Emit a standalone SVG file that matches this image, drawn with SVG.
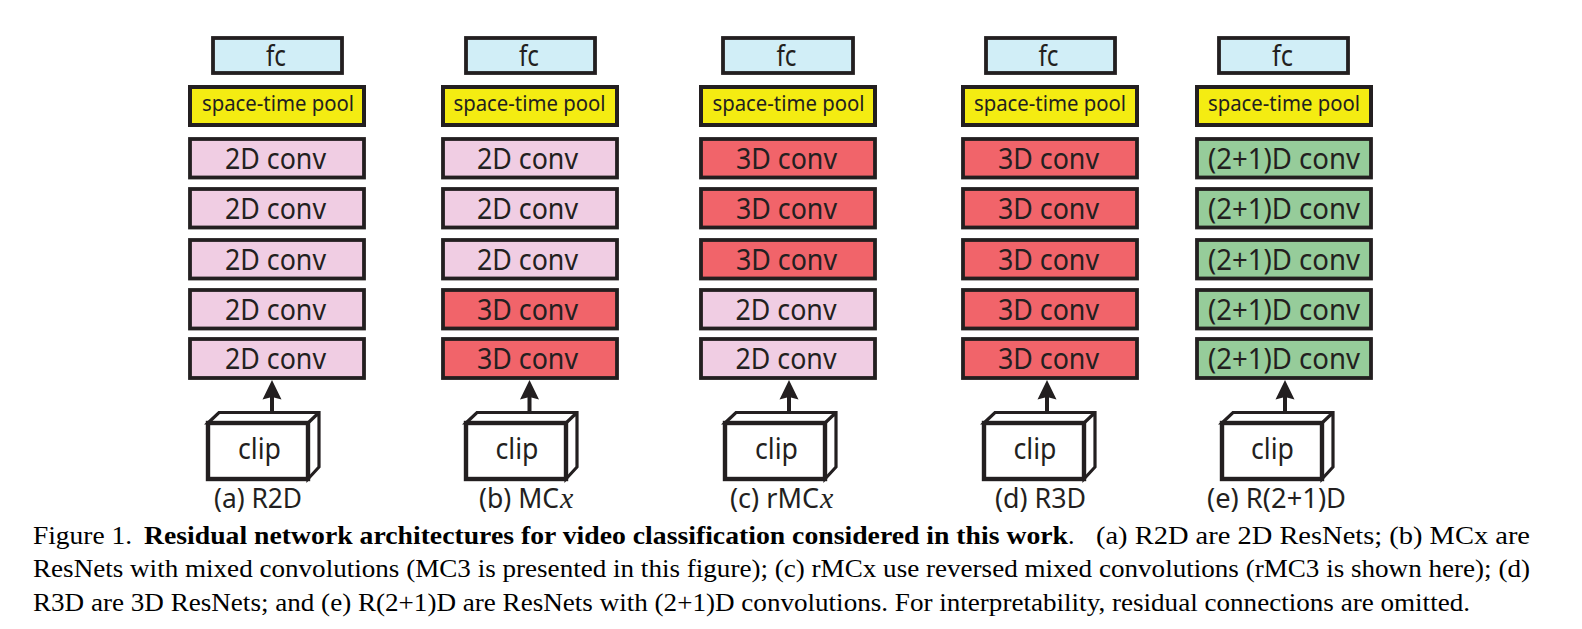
<svg xmlns="http://www.w3.org/2000/svg" width="1582" height="629" viewBox="0 0 1582 629">
<style>
.b{stroke:#231f20;stroke-width:3.8}
.p{stroke:#231f20;stroke-width:4}
.fc{fill:#d1eef7}.pool{fill:#f4ec12}.d2{fill:#f0cde3}.d3{fill:#f1646a}.d21{fill:#96cc9a}
text{font-family:"Noto Sans","Open Sans",sans-serif;fill:#231f20;text-anchor:middle}
.l{font-size:29px}.s{font-size:22px}.t{font-size:28px}
text.x{font-family:"Liberation Serif",serif;font-style:italic;font-size:30px;text-anchor:start}
text.st{text-anchor:start}
text.cap{font-family:"Liberation Serif",serif;font-size:26px;fill:#000;text-anchor:start}
.back{fill:#fff;stroke:#231f20;stroke-width:3.2}
.front{fill:#fff;stroke:#231f20;stroke-width:4.4}
.conn{stroke:#231f20;stroke-width:4;fill:none}
.head{fill:#231f20}
</style>
<defs>
<g id="cube"><path class="back" d="M2 11L13 .5H113V55L102 67V11ZM102 11L113 .5"/><rect class="front" x="2" y="11" width="100" height="56"/></g>
<path id="arrowhead" class="head" d="M0 0L9.500 19.500L0 17L-9.500 19.500Z"/>
</defs>

<g id="connectors">
<path class="conn" d="M272 411V396M529.500 411V396M789 411V396M1047 411V396M1285 411V396"/>
<use href="#arrowhead" x="272" y="380"/>
<use href="#arrowhead" x="529.500" y="380"/>
<use href="#arrowhead" x="789" y="380"/>
<use href="#arrowhead" x="1047" y="380"/>
<use href="#arrowhead" x="1285" y="380"/>
</g>

<g id="col-a">
<g id="a-fc"><rect class="b fc" x="213" y="38" width="129" height="35"/><text class="l" x="276" y="65.500" textLength="20" lengthAdjust="spacingAndGlyphs">fc</text></g>
<g id="a-pool"><rect class="p pool" x="190" y="87" width="174" height="38"/><text class="s" x="278" y="111" textLength="152" lengthAdjust="spacingAndGlyphs">space-time pool</text></g>
<g id="a-1"><rect class="b d2" x="190" y="139" width="174" height="38.500"/><text class="l" x="275.500" y="169" textLength="101" lengthAdjust="spacingAndGlyphs">2D conv</text></g>
<g id="a-2"><rect class="b d2" x="190" y="189" width="174" height="38.500"/><text class="l" x="275.500" y="219" textLength="101" lengthAdjust="spacingAndGlyphs">2D conv</text></g>
<g id="a-3"><rect class="b d2" x="190" y="240" width="174" height="38.500"/><text class="l" x="275.500" y="270" textLength="101" lengthAdjust="spacingAndGlyphs">2D conv</text></g>
<g id="a-4"><rect class="b d2" x="190" y="290" width="174" height="38.500"/><text class="l" x="275.500" y="320" textLength="101" lengthAdjust="spacingAndGlyphs">2D conv</text></g>
<g id="a-5"><rect class="b d2" x="190" y="339" width="174" height="39"/><text class="l" x="275.500" y="369" textLength="101" lengthAdjust="spacingAndGlyphs">2D conv</text></g>
<g id="a-clip"><use href="#cube" x="206" y="412"/><text class="l" x="259.500" y="459" textLength="43" lengthAdjust="spacingAndGlyphs">clip</text></g>
<text id="a-label" class="t" x="258" y="508" textLength="88" lengthAdjust="spacingAndGlyphs">(a) R2D</text>
</g>

<g id="col-b">
<g id="b-fc"><rect class="b fc" x="466" y="38" width="129" height="35"/><text class="l" x="529" y="65.500" textLength="20" lengthAdjust="spacingAndGlyphs">fc</text></g>
<g id="b-pool"><rect class="p pool" x="443" y="87" width="174" height="38"/><text class="s" x="529.500" y="111" textLength="152" lengthAdjust="spacingAndGlyphs">space-time pool</text></g>
<g id="b-1"><rect class="b d2" x="443" y="139" width="174" height="38.500"/><text class="l" x="527.500" y="169" textLength="101" lengthAdjust="spacingAndGlyphs">2D conv</text></g>
<g id="b-2"><rect class="b d2" x="443" y="189" width="174" height="38.500"/><text class="l" x="527.500" y="219" textLength="101" lengthAdjust="spacingAndGlyphs">2D conv</text></g>
<g id="b-3"><rect class="b d2" x="443" y="240" width="174" height="38.500"/><text class="l" x="527.500" y="270" textLength="101" lengthAdjust="spacingAndGlyphs">2D conv</text></g>
<g id="b-4"><rect class="b d3" x="443" y="290" width="174" height="38.500"/><text class="l" x="527.500" y="320" textLength="101" lengthAdjust="spacingAndGlyphs">3D conv</text></g>
<g id="b-5"><rect class="b d3" x="443" y="339" width="174" height="39"/><text class="l" x="527.500" y="369" textLength="101" lengthAdjust="spacingAndGlyphs">3D conv</text></g>
<g id="b-clip"><use href="#cube" x="464" y="412"/><text class="l" x="517" y="459" textLength="43" lengthAdjust="spacingAndGlyphs">clip</text></g>
<g id="b-label"><text class="t st" x="479" y="508" textLength="80" lengthAdjust="spacingAndGlyphs">(b) MC</text><text class="x" x="560" y="508">x</text></g>
</g>

<g id="col-c">
<g id="c-fc"><rect class="b fc" x="723" y="38" width="130" height="35"/><text class="l" x="786.500" y="65.500" textLength="20" lengthAdjust="spacingAndGlyphs">fc</text></g>
<g id="c-pool"><rect class="p pool" x="701" y="87" width="174" height="38"/><text class="s" x="788.500" y="111" textLength="152" lengthAdjust="spacingAndGlyphs">space-time pool</text></g>
<g id="c-1"><rect class="b d3" x="701" y="139" width="174" height="38.500"/><text class="l" x="786.500" y="169" textLength="101" lengthAdjust="spacingAndGlyphs">3D conv</text></g>
<g id="c-2"><rect class="b d3" x="701" y="189" width="174" height="38.500"/><text class="l" x="786.500" y="219" textLength="101" lengthAdjust="spacingAndGlyphs">3D conv</text></g>
<g id="c-3"><rect class="b d3" x="701" y="240" width="174" height="38.500"/><text class="l" x="786.500" y="270" textLength="101" lengthAdjust="spacingAndGlyphs">3D conv</text></g>
<g id="c-4"><rect class="b d2" x="701" y="290" width="174" height="38.500"/><text class="l" x="786" y="320" textLength="101" lengthAdjust="spacingAndGlyphs">2D conv</text></g>
<g id="c-5"><rect class="b d2" x="701" y="339" width="174" height="39"/><text class="l" x="786" y="369" textLength="101" lengthAdjust="spacingAndGlyphs">2D conv</text></g>
<g id="c-clip"><use href="#cube" x="723" y="412"/><text class="l" x="776.500" y="459" textLength="43" lengthAdjust="spacingAndGlyphs">clip</text></g>
<g id="c-label"><text class="t st" x="730" y="508" textLength="89" lengthAdjust="spacingAndGlyphs">(c) rMC</text><text class="x" x="820" y="508">x</text></g>
</g>

<g id="col-d">
<g id="d-fc"><rect class="b fc" x="986" y="38" width="129" height="35"/><text class="l" x="1048.500" y="65.500" textLength="20" lengthAdjust="spacingAndGlyphs">fc</text></g>
<g id="d-pool"><rect class="p pool" x="963" y="87" width="174" height="38"/><text class="s" x="1050" y="111" textLength="152" lengthAdjust="spacingAndGlyphs">space-time pool</text></g>
<g id="d-1"><rect class="b d3" x="963" y="139" width="174" height="38.500"/><text class="l" x="1048.500" y="169" textLength="101" lengthAdjust="spacingAndGlyphs">3D conv</text></g>
<g id="d-2"><rect class="b d3" x="963" y="189" width="174" height="38.500"/><text class="l" x="1048.500" y="219" textLength="101" lengthAdjust="spacingAndGlyphs">3D conv</text></g>
<g id="d-3"><rect class="b d3" x="963" y="240" width="174" height="38.500"/><text class="l" x="1048.500" y="270" textLength="101" lengthAdjust="spacingAndGlyphs">3D conv</text></g>
<g id="d-4"><rect class="b d3" x="963" y="290" width="174" height="38.500"/><text class="l" x="1048.500" y="320" textLength="101" lengthAdjust="spacingAndGlyphs">3D conv</text></g>
<g id="d-5"><rect class="b d3" x="963" y="339" width="174" height="39"/><text class="l" x="1048.500" y="369" textLength="101" lengthAdjust="spacingAndGlyphs">3D conv</text></g>
<g id="d-clip"><use href="#cube" x="982" y="412"/><text class="l" x="1035" y="459" textLength="43" lengthAdjust="spacingAndGlyphs">clip</text></g>
<text id="d-label" class="t" x="1040.500" y="508" textLength="91" lengthAdjust="spacingAndGlyphs">(d) R3D</text>
</g>

<g id="col-e">
<g id="e-fc"><rect class="b fc" x="1219" y="38" width="129" height="35"/><text class="l" x="1282.500" y="65.500" textLength="21" lengthAdjust="spacingAndGlyphs">fc</text></g>
<g id="e-pool"><rect class="p pool" x="1197" y="87" width="174" height="38"/><text class="s" x="1284" y="111" textLength="152" lengthAdjust="spacingAndGlyphs">space-time pool</text></g>
<g id="e-1"><rect class="b d21" x="1197" y="139" width="174" height="38.500"/><text class="l" x="1284" y="169" textLength="152" lengthAdjust="spacingAndGlyphs">(2+1)D conv</text></g>
<g id="e-2"><rect class="b d21" x="1197" y="189" width="174" height="38.500"/><text class="l" x="1284" y="219" textLength="152" lengthAdjust="spacingAndGlyphs">(2+1)D conv</text></g>
<g id="e-3"><rect class="b d21" x="1197" y="240" width="174" height="38.500"/><text class="l" x="1284" y="270" textLength="152" lengthAdjust="spacingAndGlyphs">(2+1)D conv</text></g>
<g id="e-4"><rect class="b d21" x="1197" y="290" width="174" height="38.500"/><text class="l" x="1284" y="320" textLength="152" lengthAdjust="spacingAndGlyphs">(2+1)D conv</text></g>
<g id="e-5"><rect class="b d21" x="1197" y="339" width="174" height="39"/><text class="l" x="1284" y="369" textLength="152" lengthAdjust="spacingAndGlyphs">(2+1)D conv</text></g>
<g id="e-clip"><use href="#cube" x="1220" y="412"/><text class="l" x="1272.500" y="459" textLength="43" lengthAdjust="spacingAndGlyphs">clip</text></g>
<text id="e-label" class="t" x="1276.500" y="508" textLength="139" lengthAdjust="spacingAndGlyphs">(e) R(2+1)D</text>
</g>

<g id="caption">
<text class="cap" x="33" y="544" textLength="99" lengthAdjust="spacingAndGlyphs">Figure 1.</text>
<text class="cap" x="144" y="544" textLength="924" lengthAdjust="spacingAndGlyphs" font-weight="bold">Residual network architectures for video classification considered in this work</text>
<text class="cap" x="1068" y="544">.</text>
<text class="cap" x="1096" y="544" textLength="434" lengthAdjust="spacingAndGlyphs">(a) R2D are 2D ResNets; (b) MCx are</text>
<text class="cap" x="33" y="577" textLength="1497" lengthAdjust="spacingAndGlyphs">ResNets with mixed convolutions (MC3 is presented in this figure); (c) rMCx use reversed mixed convolutions (rMC3 is shown here); (d)</text>
<text class="cap" x="33" y="611" textLength="1437" lengthAdjust="spacingAndGlyphs">R3D are 3D ResNets; and (e) R(2+1)D are ResNets with (2+1)D convolutions. For interpretability, residual connections are omitted.</text>
</g>
</svg>
